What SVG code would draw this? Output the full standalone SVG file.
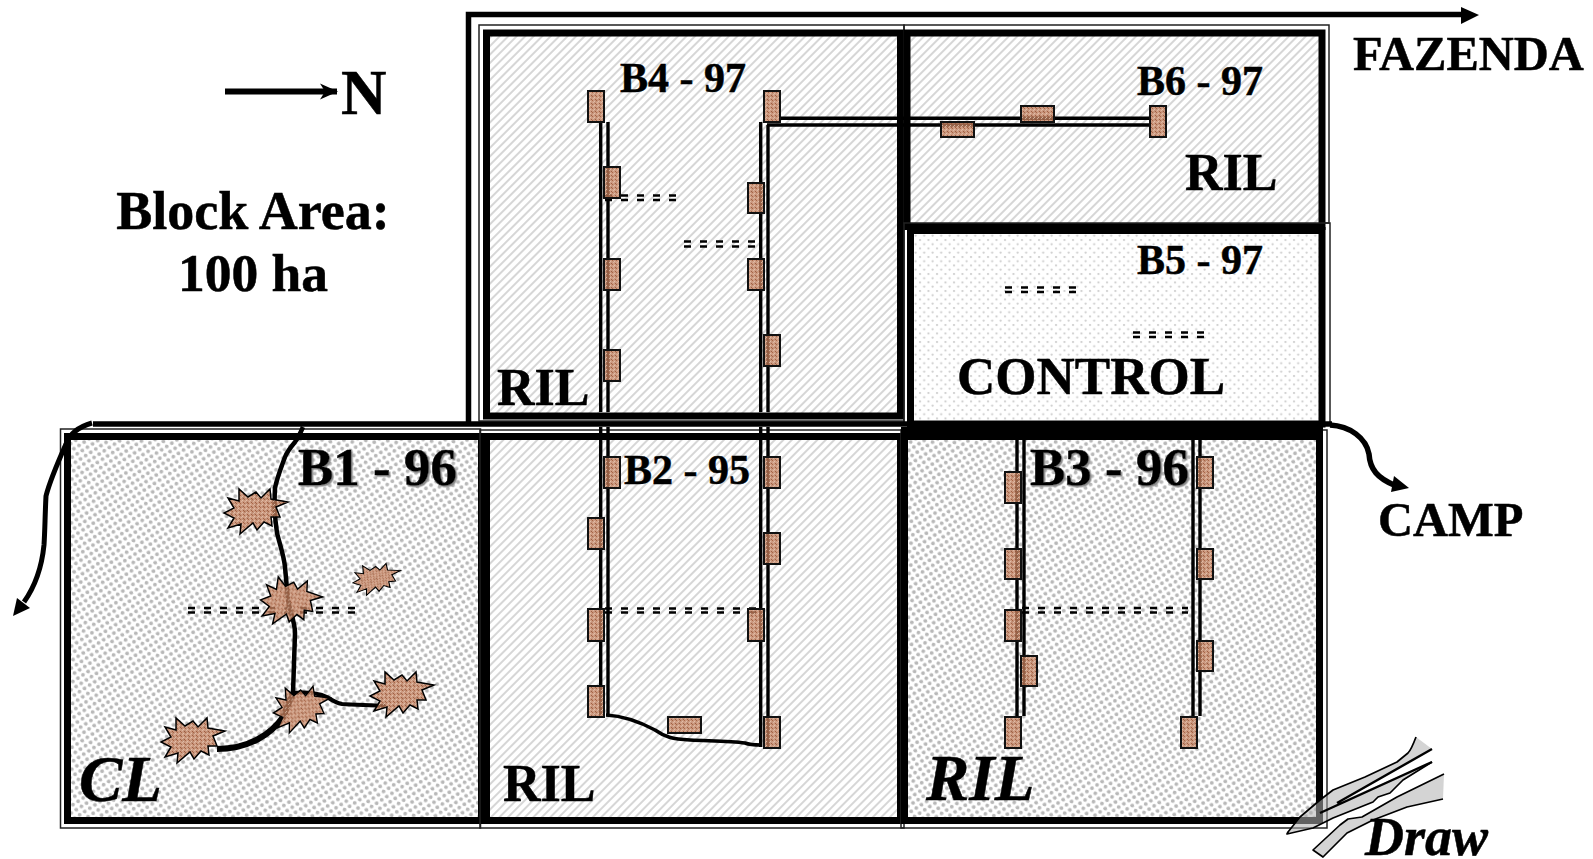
<svg xmlns="http://www.w3.org/2000/svg" width="1593" height="859" viewBox="0 0 1593 859">
<style>
text{font-family:"Liberation Serif","Times New Roman",serif;font-weight:bold;fill:#000;stroke:#000;stroke-width:.5}
.i{font-style:italic}
.s42{font-size:42px}.s53{font-size:53px}.s52{font-size:52px}.s48{font-size:48.5px}
.thick{stroke:#000;stroke-width:7}
.thin{fill:none;stroke:#222;stroke-width:1.5}
.road{fill:none;stroke:#000;stroke-width:5.5}
.pipe{fill:none;stroke:#000;stroke-width:3.4}
.dash{fill:none;stroke:#000;stroke-width:2.6;stroke-dasharray:7 9}
.track{fill:none;stroke:#000;stroke-width:4.5;stroke-linejoin:round}
.box{fill:url(#speck);stroke:#111;stroke-width:2}
.star{fill:url(#speck);stroke:#000;stroke-width:1.5;stroke-linejoin:miter}
.stream{fill:#b0b0b0;fill-opacity:.55;stroke:none}
.edge{fill:none;stroke:#000;stroke-width:1.7;stroke-linejoin:round}
.shadow{filter:url(#shade)}
</style>
<defs>
<pattern id="hatch" width="6" height="6" patternUnits="userSpaceOnUse" patternTransform="rotate(-45)">
<rect width="6" height="6" fill="#fff"/><rect width="6" height="2" fill="#d6d6d6"/>
</pattern>
<pattern id="coarse" width="8.6" height="8.6" patternUnits="userSpaceOnUse" patternTransform="rotate(12)">
<rect width="8.6" height="8.6" fill="#fff"/><circle cx="2.2" cy="2.2" r="1.9" fill="#b8b8b8"/><circle cx="6.5" cy="6.5" r="1.9" fill="#b8b8b8"/>
</pattern>
<pattern id="fine" width="8.5" height="8.5" patternUnits="userSpaceOnUse">
<rect width="8.5" height="8.5" fill="#fff"/><circle cx="2" cy="2" r="1.1" fill="#cacaca"/><circle cx="6.2" cy="6.2" r="1.1" fill="#cacaca"/>
</pattern>
<pattern id="speck" width="4" height="4" patternUnits="userSpaceOnUse">
<rect width="4" height="4" fill="#c08060" fill-opacity=".78"/>
<rect x="0" y="0" width="1" height="1" fill="#a05a38" fill-opacity=".8"/><rect x="2" y="1" width="1" height="1" fill="#e8c8b2" fill-opacity=".8"/>
<rect x="1" y="2" width="1" height="1" fill="#e4bea6" fill-opacity=".8"/><rect x="3" y="3" width="1" height="1" fill="#945032" fill-opacity=".8"/>
</pattern>
<filter id="shade" x="-5%" y="-5%" width="110%" height="115%"><feDropShadow dx="1.5" dy="1.5" stdDeviation=".6" flood-color="#888"/></filter>
<polygon id="sp" points="32,-9 20,-4 24,6 15,6 16,15 8,11 1,19 -3,12 -16,23 -15,13 -28,17 -22,7 -32,2 -22,-3 -28,-13 -17,-10 -17,-22 -8,-14 0,-19 5,-13 14,-22 15,-12"/>
<marker id="nArrow" viewBox="0 0 18 18" refX="17" refY="9" markerWidth="18" markerHeight="18" markerUnits="userSpaceOnUse" orient="auto"><path d="M0,1 L18,9 L0,17 L5,9 Z" fill="#000"/></marker>
</defs>
<rect width="1593" height="859" fill="#fff"/>

<g id="block-b1">
<rect class="thin" x="60.5" y="429" width="420" height="399"/>
<rect class="thick" fill="url(#coarse)" x="67.5" y="436.5" width="414" height="384"/>
<text class="s53 shadow" x="298" y="485">B1 - 96</text>
<text class="i" style="font-size:65px" x="79" y="801">CL</text>
</g>
<g id="block-b2">
<rect class="thin" x="480" y="430" width="424" height="398"/>
<rect class="thick" fill="url(#hatch)" x="486.5" y="436.5" width="414" height="384"/>
<text class="s42" x="624" y="484">B2 - 95</text>
<text class="s52" x="503" y="801">RIL</text>
</g>
<g id="block-b3">
<rect class="thin" x="901" y="430" width="426" height="398"/>
<rect class="thick" fill="url(#coarse)" x="904.5" y="436.5" width="415" height="384"/>
<rect x="901" y="427" width="422" height="8" fill="#000"/>
<text class="s53 shadow" x="1030" y="485">B3 - 96</text>
<text class="i" style="font-size:65px" x="926" y="800">RIL</text>
</g>
<g id="block-b4">
<rect class="thin" x="479" y="25" width="425" height="396"/>
<rect class="thick" fill="url(#hatch)" x="486.5" y="33" width="414" height="383"/>
<text class="s42" x="620" y="92">B4 - 97</text>
<text class="s52" x="497" y="405">RIL</text>
</g>
<g id="block-b6">
<rect class="thin" x="904" y="25" width="425" height="198"/>
<rect class="thick" fill="url(#hatch)" x="907" y="33" width="415" height="193.5"/>
<text class="s42" x="1137" y="95">B6 - 97</text>
<text class="s52" x="1185" y="190">RIL</text>
</g>
<g id="block-b5">
<rect class="thin" x="904" y="223" width="426" height="202"/>
<rect class="thick" fill="url(#fine)" x="910.5" y="230.5" width="411.5" height="193.5"/>
<text class="s42" x="1137" y="274">B5 - 97</text>
<text style="font-size:53px" x="957" y="394">CONTROL</text>
</g>

<g id="connectors">
<path class="road" d="M468.5,422 V14.5 H1462"/>
<polygon points="1461,7 1479,15 1461,24" fill="#000"/>
<path class="road" d="M93,424 H1332"/>
<path class="road" style="stroke-width:5" d="M92,423 C78,427 70,433 66,444 C58,462 50,480 46,496 C45,515 45,530 44,545 C42,565 36,585 24,602"/>
<polygon points="13,616 17,598 30,608" fill="#000"/>
<path class="road" d="M1330,425 C1350,426 1366,438 1369,454 C1370,470 1378,478 1394,485"/>
<polygon points="1409,488 1394,476 1391,492" fill="#000"/>
<path class="pipe" d="M600.7,122 V412 M608,122 V412 M760.7,122 V412 M768,125 V412"/>
<path class="pipe" d="M600.7,427 V715 M608,427 V715 M760.7,427 V747 M768,427 V747"/>
<path class="pipe" d="M780,118.3 H1150 M767,125 H1150"/>
<path class="pipe" d="M1017,430 V716 M1024,430 V716 M1193,430 V716 M1200,430 V716"/>
<path class="track" style="stroke-width:3.6" d="M606,715 C625,716 640,722 655,730 C665,737 672,739 690,740 C710,741 730,741 745,743 C750,745 755,745 761,745"/>
<path class="dash" d="M605,195.5 H677 M605,200 H677 M684,241.5 H757 M684,246.5 H757"/>
<path class="dash" d="M1005,287.5 H1077 M1005,292 H1077 M1133,332.5 H1205 M1133,337 H1205"/>
<path class="dash" d="M605,608.5 H757 M605,612.5 H757 M1022,608 H1188 M1022,612.5 H1188 M188,608 H357 M188,612.5 H357"/>
<path class="track" d="M303,427 C300,434 298,438 295,442 C290,448 287,452 285,457 C281,468 277,478 275,488 C274,505 275,520 277,533 C280,545 284,556 285,567 L288,600 C290,612 295,622 295,633 L293,693"/>
<path class="track" style="stroke-width:4" d="M293,693 C305,692 318,693 327,697 C333,701 336,703 342,704 C355,705 370,705 385,706"/>
<path class="track" style="stroke-width:6" d="M293,693 L283,717 C272,733 250,749 217,749"/>
</g>

<g id="sites" class="box">
<rect x="588" y="91" width="16" height="31"/><rect x="604" y="167" width="16" height="31"/><rect x="764" y="91" width="16" height="31"/><rect x="748" y="183" width="16" height="30"/>
<rect x="604" y="259" width="16" height="31"/><rect x="748" y="259" width="16" height="31"/><rect x="764" y="335" width="16" height="31"/><rect x="604" y="350" width="16" height="31"/>
<rect x="604" y="457" width="16" height="31"/><rect x="764" y="457" width="16" height="31"/><rect x="588" y="518" width="16" height="31"/><rect x="764" y="533" width="16" height="31"/>
<rect x="588" y="609" width="16" height="32"/><rect x="748" y="609" width="16" height="32"/><rect x="588" y="686" width="16" height="31"/><rect x="764" y="717" width="16" height="31"/>
<rect x="668" y="717" width="33" height="16"/>
<rect x="1005" y="472" width="16" height="31"/><rect x="1005" y="549" width="16" height="30"/><rect x="1005" y="610" width="16" height="31"/><rect x="1021" y="656" width="16" height="30"/><rect x="1005" y="717" width="16" height="31"/>
<rect x="1197" y="457" width="16" height="31"/><rect x="1197" y="549" width="16" height="30"/><rect x="1197" y="641" width="16" height="30"/><rect x="1181" y="717" width="16" height="31"/>
<rect x="1021" y="106" width="33" height="16"/><rect x="941" y="122" width="33" height="15"/><rect x="1150" y="106" width="16" height="31"/>
</g>

<g id="gaps" class="star">
<use href="#sp" transform="translate(256,511)"/>
<use href="#sp" transform="translate(291,602) rotate(8) scale(.95,1.05)"/>
<use href="#sp" transform="translate(377,579) rotate(-6) scale(.76,.66)"/>
<use href="#sp" transform="translate(402,694)"/>
<use href="#sp" transform="translate(302,709) rotate(-4) scale(.9,1)"/>
<use href="#sp" transform="translate(193,740)"/>
</g>

<g id="draw-stream">
<path class="stream" d="M1416,737 L1432,749 L1337,803 L1432,762 L1403,780 L1390,793 L1378,797 L1373,802 L1333,818 L1313,828 L1287,834 L1288,832 L1300,817 L1320,800 L1333,790 L1365,777 L1397,762 L1408,753 Z"/>
<path class="stream" d="M1444,774 L1443,799 L1407,807 L1373,820 L1347,833 L1323,857 L1313,850 L1340,825 L1348,819 L1362,817 L1397,797 Z"/>
<path class="edge" d="M1416,737 C1413,745 1411,750 1408,753 L1397,762 L1365,777 L1333,790 L1320,800 L1300,817 L1288,832 L1287,834 L1313,828 L1333,818 L1373,802 L1378,797 L1390,793 L1403,780 L1432,762"/>
<path class="edge" d="M1444,774 L1397,797 L1362,817 L1348,819 L1340,825 L1313,850 L1323,857 L1347,833 L1373,820 L1407,807 L1443,799"/>
<path fill="none" stroke="#000" stroke-width="2.4" d="M1432,749 L1337,803 M1432,762 L1320,813"/>
<text class="i" style="font-size:54px" x="1365" y="855">Draw</text>
</g>

<g id="north">
<path d="M225,91.5 H337" fill="none" stroke="#000" stroke-width="6" marker-end="url(#nArrow)"/>
<text style="font-size:63px" x="341" y="114">N</text>
</g>
<g id="block-area">
<text style="font-size:54px" text-anchor="middle" x="253" y="229">Block Area:</text>
<text style="font-size:53.5px" text-anchor="middle" x="253" y="291">100 ha</text>
</g>
<text id="fazenda" class="s48" x="1353" y="70">FAZENDA</text>
<text id="camp" class="s48" x="1378" y="536">CAMP</text>
</svg>
